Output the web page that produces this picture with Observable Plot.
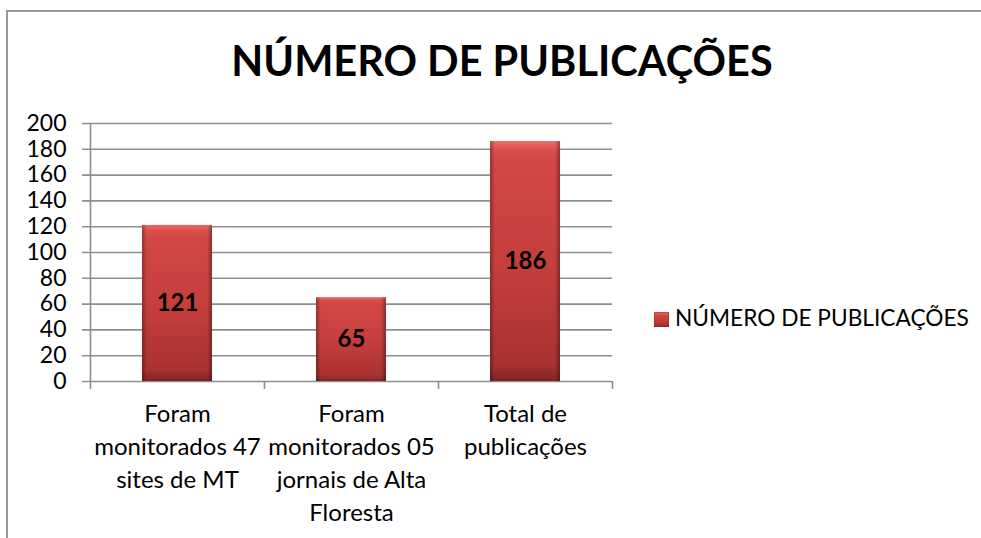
<!DOCTYPE html>
<html><head><meta charset="utf-8">
<script src="https://cdn.jsdelivr.net/npm/d3@7"></script>
<script src="https://cdn.jsdelivr.net/npm/@observablehq/plot@0.6"></script>
<style>
body{margin:0;background:#fff;}
#wrap{position:relative;width:981px;height:538px;overflow:hidden;font-family:Lato,sans-serif;background:#fff;}
#frame{position:absolute;left:6px;top:10px;width:1100px;height:700px;border-left:2px solid #9a9a9a;border-top:2px solid #9a9a9a;}
#title{position:absolute;left:502px;top:40px;transform:translateX(-50%);white-space:nowrap;font-weight:bold;font-size:41.5px;line-height:1;color:#000;}
#chart{position:absolute;left:0;top:0;}
#legsq{position:absolute;left:654px;top:312px;width:15px;height:15px;background:linear-gradient(180deg,#e86a66 0%,#d04643 25%,#c23c3a 60%,#9c2d2b 100%);box-shadow:inset 0 0 0 1px rgba(120,30,30,0.35);}
#legtx{position:absolute;left:675px;top:307px;font-size:22.7px;line-height:1;white-space:nowrap;color:#000;}
</style></head>
<body>
<div id="wrap">
  <div id="frame"></div>
  <div id="chart"></div>
  <div id="title"></div>
  <div id="legsq"></div>
  <div id="legtx"></div>
</div>
<script>
const titleText = "NÚMERO DE PUBLICAÇÕES";
const seriesName = "NÚMERO DE PUBLICAÇÕES";
const categories = ["c1", "c2", "c3"];
const categoryLabels = [
  "Foram\nmonitorados 47\nsites de MT",
  "Foram\nmonitorados 05\njornais de Alta\nFloresta",
  "Total de\npublicações"
];
const values = [121, 65, 186];
const yTicks = [0, 20, 40, 60, 80, 100, 120, 140, 160, 180, 200];

document.getElementById("title").textContent = titleText;
document.getElementById("legtx").textContent = seriesName;

const data = categories.map((c, i) => ({cat: c, label: categoryLabels[i], value: values[i]}));

const W = 981, H = 538;
const mL = 90, mR = 369, mT = 123, mB = 157;
const half = (W - mL - mR) / categories.length / 2;
const gridColor = "#8e8e8e";

const chart = Plot.plot({
  width: W, height: H,
  marginLeft: mL, marginRight: mR, marginTop: mT, marginBottom: mB,
  style: {background: "transparent", fontFamily: "Lato, sans-serif", color: "#000", overflow: "visible"},
  x: {domain: categories, paddingInner: 0.6, paddingOuter: 0.3, axis: null},
  y: {domain: [0, 200], axis: null},
  marks: [
    Plot.gridY(yTicks, {stroke: gridColor, strokeOpacity: 1, strokeWidth: 1.6, insetLeft: -8}),
    Plot.ruleX([categories[0]], {x: d => d, dx: -half, y1: 200, y2: 0, insetBottom: -8, stroke: gridColor, strokeWidth: 1.6}),
    Plot.ruleX(categories, {x: d => d, dx: half, y1: 0, y2: 0, insetBottom: -8, stroke: gridColor, strokeWidth: 1.6}),
    Plot.axisY(yTicks, {tickSize: 0, tickPadding: 24, fontSize: 23, tickFormat: d => String(d), label: null}),
    Plot.barY(data, {x: "cat", y: "value", fill: "url(#gv)"}),
    Plot.barY(data, {x: "cat", y: "value", fill: "url(#gh)"}),
    Plot.text(data, {x: "cat", y: d => d.value / 2, text: d => String(d.value), fontSize: 24, fontWeight: "bold", fill: "#000"}),
    Plot.text(data, {x: "cat", text: "label", frameAnchor: "bottom", lineAnchor: "top", lineHeight: 1.375, dy: 17, fontSize: 24, fill: "#000"})
  ]
});

const svg = d3.select(chart);
const defs = svg.insert("defs", ":first-child");
const gv = defs.append("linearGradient").attr("id", "gv").attr("x1", 0).attr("y1", 0).attr("x2", 0).attr("y2", 1);
[[0, "#ea6c68"], [0.035, "#dc514e"], [0.08, "#d24744"], [0.5, "#c63f3c"], [0.93, "#a83230"], [1, "#7e2523"]]
  .forEach(([o, c]) => gv.append("stop").attr("offset", o).attr("stop-color", c));
const gh = defs.append("linearGradient").attr("id", "gh").attr("x1", 0).attr("y1", 0).attr("x2", 1).attr("y2", 0);
[[0, "#000", 0.3], [0.07, "#000", 0], [0.93, "#000", 0], [1, "#000", 0.35]]
  .forEach(([o, c, a]) => gh.append("stop").attr("offset", o).attr("stop-color", c).attr("stop-opacity", a));

document.getElementById("chart").appendChild(chart);
</script>
</body></html>
